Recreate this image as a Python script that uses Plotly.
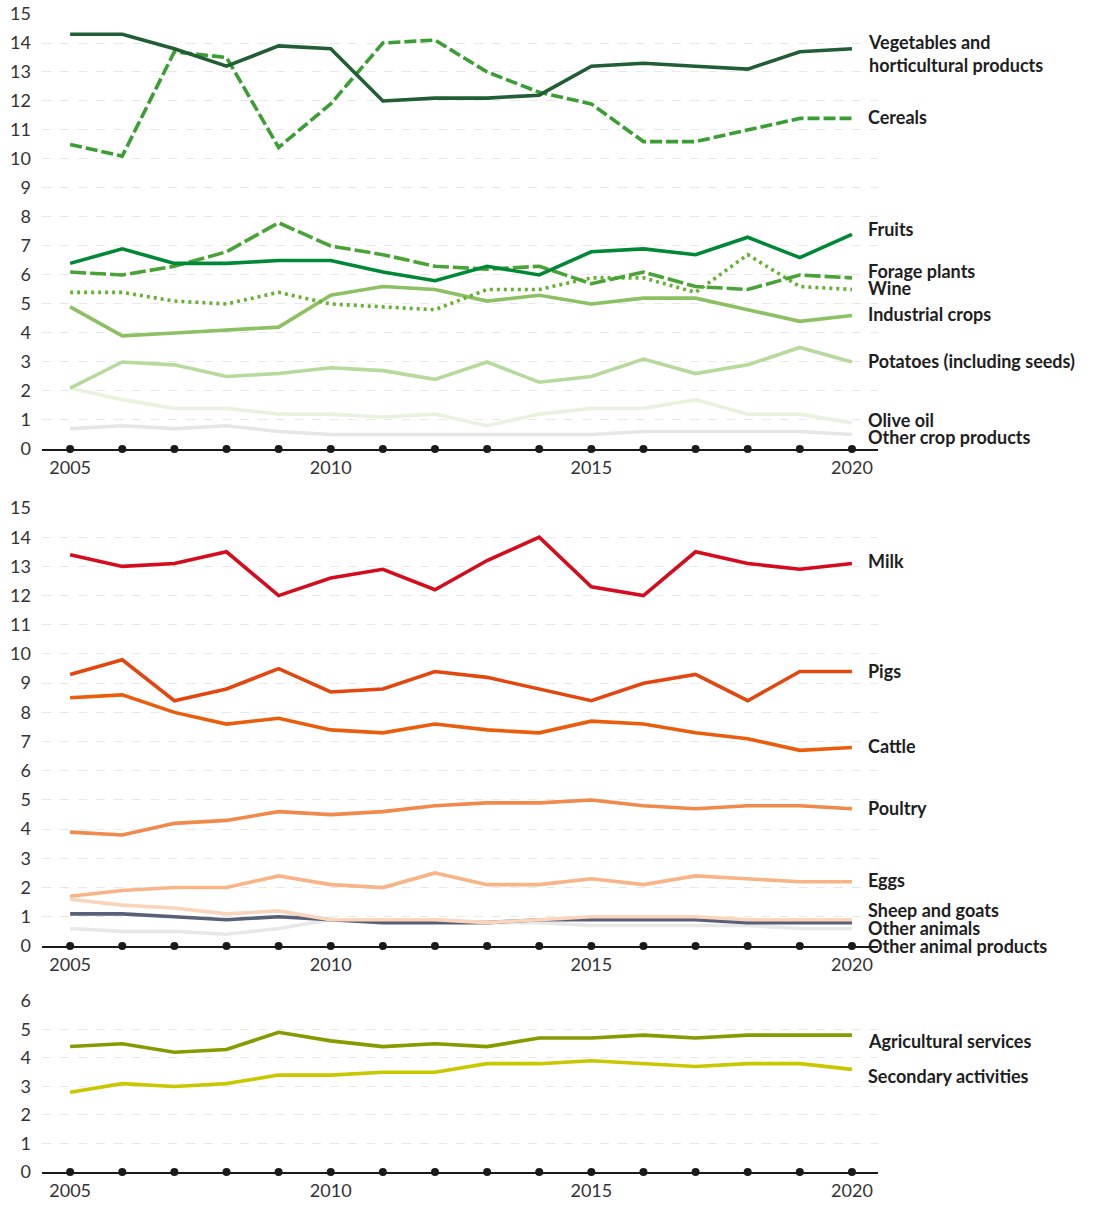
import plotly.graph_objects as go

years = list(range(2005, 2021))
year_ticks = [2005, 2010, 2015, 2020]

# crop output
vegetables = [14.3, 14.3, 13.8, 13.2, 13.9, 13.8, 12.0, 12.1, 12.1, 12.2, 13.2, 13.3, 13.2, 13.1, 13.7, 13.8]
cereals = [10.5, 10.1, 13.7, 13.5, 10.4, 11.9, 14.0, 14.1, 13.0, 12.3, 11.9, 10.6, 10.6, 11.0, 11.4, 11.4]
fruits = [6.4, 6.9, 6.4, 6.4, 6.5, 6.5, 6.1, 5.8, 6.3, 6.0, 6.8, 6.9, 6.7, 7.3, 6.6, 7.4]
forage = [6.1, 6.0, 6.3, 6.8, 7.8, 7.0, 6.7, 6.3, 6.2, 6.3, 5.7, 6.1, 5.6, 5.5, 6.0, 5.9]
wine = [5.4, 5.4, 5.1, 5.0, 5.4, 5.0, 4.9, 4.8, 5.5, 5.5, 5.9, 5.9, 5.4, 6.7, 5.6, 5.5]
industrial = [4.9, 3.9, 4.0, 4.1, 4.2, 5.3, 5.6, 5.5, 5.1, 5.3, 5.0, 5.2, 5.2, 4.8, 4.4, 4.6]
potatoes = [2.1, 3.0, 2.9, 2.5, 2.6, 2.8, 2.7, 2.4, 3.0, 2.3, 2.5, 3.1, 2.6, 2.9, 3.5, 3.0]
olive_oil = [2.1, 1.7, 1.4, 1.4, 1.2, 1.2, 1.1, 1.2, 0.8, 1.2, 1.4, 1.4, 1.7, 1.2, 1.2, 0.9]
other_crops = [0.7, 0.8, 0.7, 0.8, 0.6, 0.5, 0.5, 0.5, 0.5, 0.5, 0.5, 0.6, 0.6, 0.6, 0.6, 0.5]

# animal output
milk = [13.4, 13.0, 13.1, 13.5, 12.0, 12.6, 12.9, 12.2, 13.2, 14.0, 12.3, 12.0, 13.5, 13.1, 12.9, 13.1]
pigs = [9.3, 9.8, 8.4, 8.8, 9.5, 8.7, 8.8, 9.4, 9.2, 8.8, 8.4, 9.0, 9.3, 8.4, 9.4, 9.4]
cattle = [8.5, 8.6, 8.0, 7.6, 7.8, 7.4, 7.3, 7.6, 7.4, 7.3, 7.7, 7.6, 7.3, 7.1, 6.7, 6.8]
poultry = [3.9, 3.8, 4.2, 4.3, 4.6, 4.5, 4.6, 4.8, 4.9, 4.9, 5.0, 4.8, 4.7, 4.8, 4.8, 4.7]
eggs = [1.7, 1.9, 2.0, 2.0, 2.4, 2.1, 2.0, 2.5, 2.1, 2.1, 2.3, 2.1, 2.4, 2.3, 2.2, 2.2]
sheep_goats = [1.6, 1.4, 1.3, 1.1, 1.2, 0.9, 0.9, 0.9, 0.8, 0.9, 1.0, 1.0, 1.0, 0.9, 0.9, 0.9]
other_animals = [1.1, 1.1, 1.0, 0.9, 1.0, 0.9, 0.8, 0.8, 0.8, 0.9, 0.9, 0.9, 0.9, 0.8, 0.8, 0.8]
other_animal_products = [0.6, 0.5, 0.5, 0.4, 0.6, 0.9, 0.9, 0.9, 0.8, 0.8, 0.7, 0.7, 0.7, 0.7, 0.6, 0.6]

# services and secondary activities
ag_services = [4.4, 4.5, 4.2, 4.3, 4.9, 4.6, 4.4, 4.5, 4.4, 4.7, 4.7, 4.8, 4.7, 4.8, 4.8, 4.8]
secondary = [2.8, 3.1, 3.0, 3.1, 3.4, 3.4, 3.5, 3.5, 3.8, 3.8, 3.9, 3.8, 3.7, 3.8, 3.8, 3.6]

# (label, values, colour, dash, label y position) per panel
panels = [
    [
        ("Other crop products", other_crops, "#e6e6e6", "solid", 0.4),
        ("Olive oil", olive_oil, "#e9f2df", "solid", 1.0),
        ("Potatoes (including seeds)", potatoes, "#b6d99c", "solid", 3.05),
        ("Industrial crops", industrial, "#8cc063", "solid", 4.65),
        ("Wine", wine, "#66b032", "3px,4px", 5.55),
        ("Forage plants", forage, "#4aa336", "16px,4px", 6.15),
        ("Fruits", fruits, "#008837", "solid", 7.6),
        ("Cereals", cereals, "#3a9e35", "12px,4px", 11.45),
        ("Vegetables and<br>horticultural products", vegetables, "#215e35", "solid", 13.65),
    ],
    [
        ("Other animal products", other_animal_products, "#e8e8e8", "solid", 0.0),
        ("Other animals", other_animals, "#585f78", "solid", 0.62),
        ("Sheep and goats", sheep_goats, "#fad4bb", "solid", 1.24),
        ("Eggs", eggs, "#f8b486", "solid", 2.26),
        ("Poultry", poultry, "#f0894a", "solid", 4.73),
        ("Cattle", cattle, "#ea5d0d", "solid", 6.85),
        ("Pigs", pigs, "#e2470f", "solid", 9.42),
        ("Milk", milk, "#d50c1d", "solid", 13.18),
    ],
    [
        ("Secondary activities", secondary, "#c8c700", "solid", 3.37),
        ("Agricultural services", ag_services, "#879a00", "solid", 4.6),
    ],
]
y_max = [15, 15, 6]
domains = [[0.6244, 1.0], [0.1952, 0.5734], [0.0, 0.1477]]

fig = go.Figure()
annotations = []
for i, series in enumerate(panels):
    xa = "x" if i == 0 else f"x{i + 1}"
    ya = "y" if i == 0 else f"y{i + 1}"
    for name, vals, color, dash, label_y in series:
        fig.add_trace(go.Scatter(x=years, y=vals, mode="lines", name=name.replace("<br>", " "),
                                 line=dict(color=color, width=3.6, dash=dash),
                                 xaxis=xa, yaxis=ya, showlegend=False))
        annotations.append(dict(x=2020, y=label_y, xref=xa, yref=ya, text="<b>" + name + "</b>",
                                xanchor="left", yanchor="middle", xshift=14, showarrow=False, align="left",
                                font=dict(family="Lato", size=18, color="#1e1e1e")))
    # year dots on the axis line
    fig.add_trace(go.Scatter(x=years, y=[0] * len(years), mode="markers", cliponaxis=False,
                             marker=dict(color="#1a1a1a", size=8), xaxis=xa, yaxis=ya, showlegend=False))

layout = dict(width=1093, height=1210, plot_bgcolor="white", paper_bgcolor="white",
              margin=dict(l=42, r=215, t=14, b=38), annotations=annotations,
              font=dict(family="Lato", size=18, color="#333333"))
for i in range(3):
    xkey = "xaxis" if i == 0 else f"xaxis{i + 1}"
    ykey = "yaxis" if i == 0 else f"yaxis{i + 1}"
    ya = "y" if i == 0 else f"y{i + 1}"
    layout[xkey] = dict(range=[2004.46, 2020.5], tickvals=year_ticks, showgrid=False, zeroline=False,
                        showline=True, linecolor="#1a1a1a", linewidth=2, anchor=ya, automargin=False,
                        tickfont=dict(size=18, color="#333333"), ticklabelstandoff=1)
    layout[ykey] = dict(range=[0, y_max[i]], dtick=1, domain=domains[i], showgrid=True, automargin=False,
                        gridcolor="#e8e8e8", griddash="dash", gridwidth=1, zeroline=False,
                        ticklabeloverflow="allow", showline=False,
                        tickfont=dict(size=18, color="#333333"), ticklabelstandoff=10)
fig.update_layout(**layout)

# drop the default 8px page margin so the figure sits at the window's corner
fig.write_html("out.html", config={"displayModeBar": False},
               post_script="document.body.style.margin = '0px';")
